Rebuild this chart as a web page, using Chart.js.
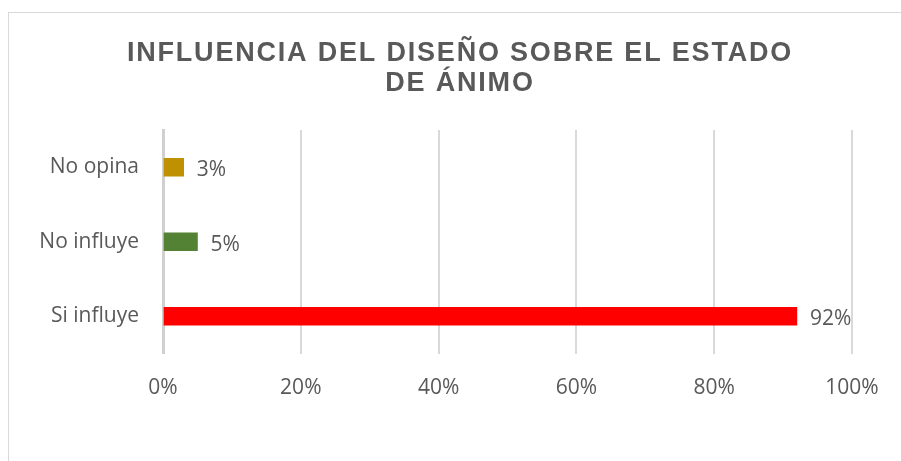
<!DOCTYPE html>
<html>
<head>
<meta charset="utf-8">
<script src="https://cdn.jsdelivr.net/npm/chart.js@4/dist/chart.umd.min.js"></script>
<style>
  html, body { margin: 0; padding: 0; background: #ffffff; }
  #wrap { position: relative; width: 901px; height: 461px; overflow: hidden; }
  #frame { position: absolute; left: 8px; top: 12px; width: 920px; height: 480px; border: 1px solid #d9d9d9; box-sizing: border-box; }
  canvas { position: absolute; left: 0; top: 0; }
</style>
</head>
<body>
<div id="wrap">
  <div id="frame"></div>
  <canvas id="chart" width="901" height="461"></canvas>
</div>
<script>
// Survey answers and their shares (percent)
const categories = ['No opina', 'No influye', 'Si influye'];
const shares = [3, 5, 92];
const barColors = ['#BF9000', '#548235', '#FF0000'];
const xTicks = [0, 20, 40, 60, 80, 100];
const titleLines = ['INFLUENCIA DEL DISEÑO SOBRE EL ESTADO', 'DE ÁNIMO'];

const textColor = '#595959';
const labelFont = '21px "Open Sans", sans-serif';

// Title drawn centred above the plot, letter-spaced
const titlePlugin = {
  id: 'titleLines',
  afterDraw(chart) {
    const ctx = chart.ctx;
    ctx.save();
    ctx.fillStyle = textColor;
    ctx.font = 'bold 27px "Liberation Sans", Arial, sans-serif';
    ctx.letterSpacing = '1.8px';
    ctx.textAlign = 'center';
    ctx.textBaseline = 'alphabetic';
    const baselines = [61, 91];
    titleLines.forEach((t, i) => ctx.fillText(t, 460, baselines[i]));
    ctx.restore();
  }
};

// Value labels placed just past the end of each bar
const valueLabels = {
  id: 'valueLabels',
  afterDatasetsDraw(chart) {
    const ctx = chart.ctx;
    const meta = chart.getDatasetMeta(0);
    ctx.save();
    ctx.fillStyle = textColor;
    ctx.font = labelFont;
    ctx.textAlign = 'left';
    ctx.textBaseline = 'middle';
    meta.data.forEach((bar, i) => {
      ctx.fillText(shares[i] + '%', bar.x + 13, bar.y + 3);
    });
    ctx.restore();
  }
};

new Chart(document.getElementById('chart'), {
  type: 'bar',
  data: {
    labels: categories,
    datasets: [{
      data: shares,
      backgroundColor: barColors,
      borderWidth: 0,
      barThickness: 18
    }]
  },
  options: {
    indexAxis: 'y',
    responsive: false,
    animation: false,
    layout: { padding: { top: 130, right: 49, left: 0, bottom: 0 } },
    plugins: {
      legend: { display: false },
      title: { display: false },
      tooltip: { enabled: false }
    },
    scales: {
      x: {
        min: 0,
        max: 100,
        afterBuildTicks(scale) { scale.ticks = xTicks.map(v => ({ value: v })); },
        afterFit(scale) { scale.height = 107.5; },
        grid: { color: '#d9d9d9', lineWidth: 2, drawTicks: false },
        border: { display: false },
        ticks: {
          color: textColor,
          font: { family: '"Open Sans", sans-serif', size: 21 },
          padding: 22,
          callback: v => v + '%'
        }
      },
      y: {
        afterFit(scale) { scale.width = 163; },
        grid: { display: false, drawTicks: false },
        border: { display: true, color: '#d0d0d0', width: 3 },
        ticks: {
          color: textColor,
          font: { family: '"Open Sans", sans-serif', size: 21 },
          padding: 24
        }
      }
    }
  },
  plugins: [titlePlugin, valueLabels]
});
</script>
</body>
</html>
